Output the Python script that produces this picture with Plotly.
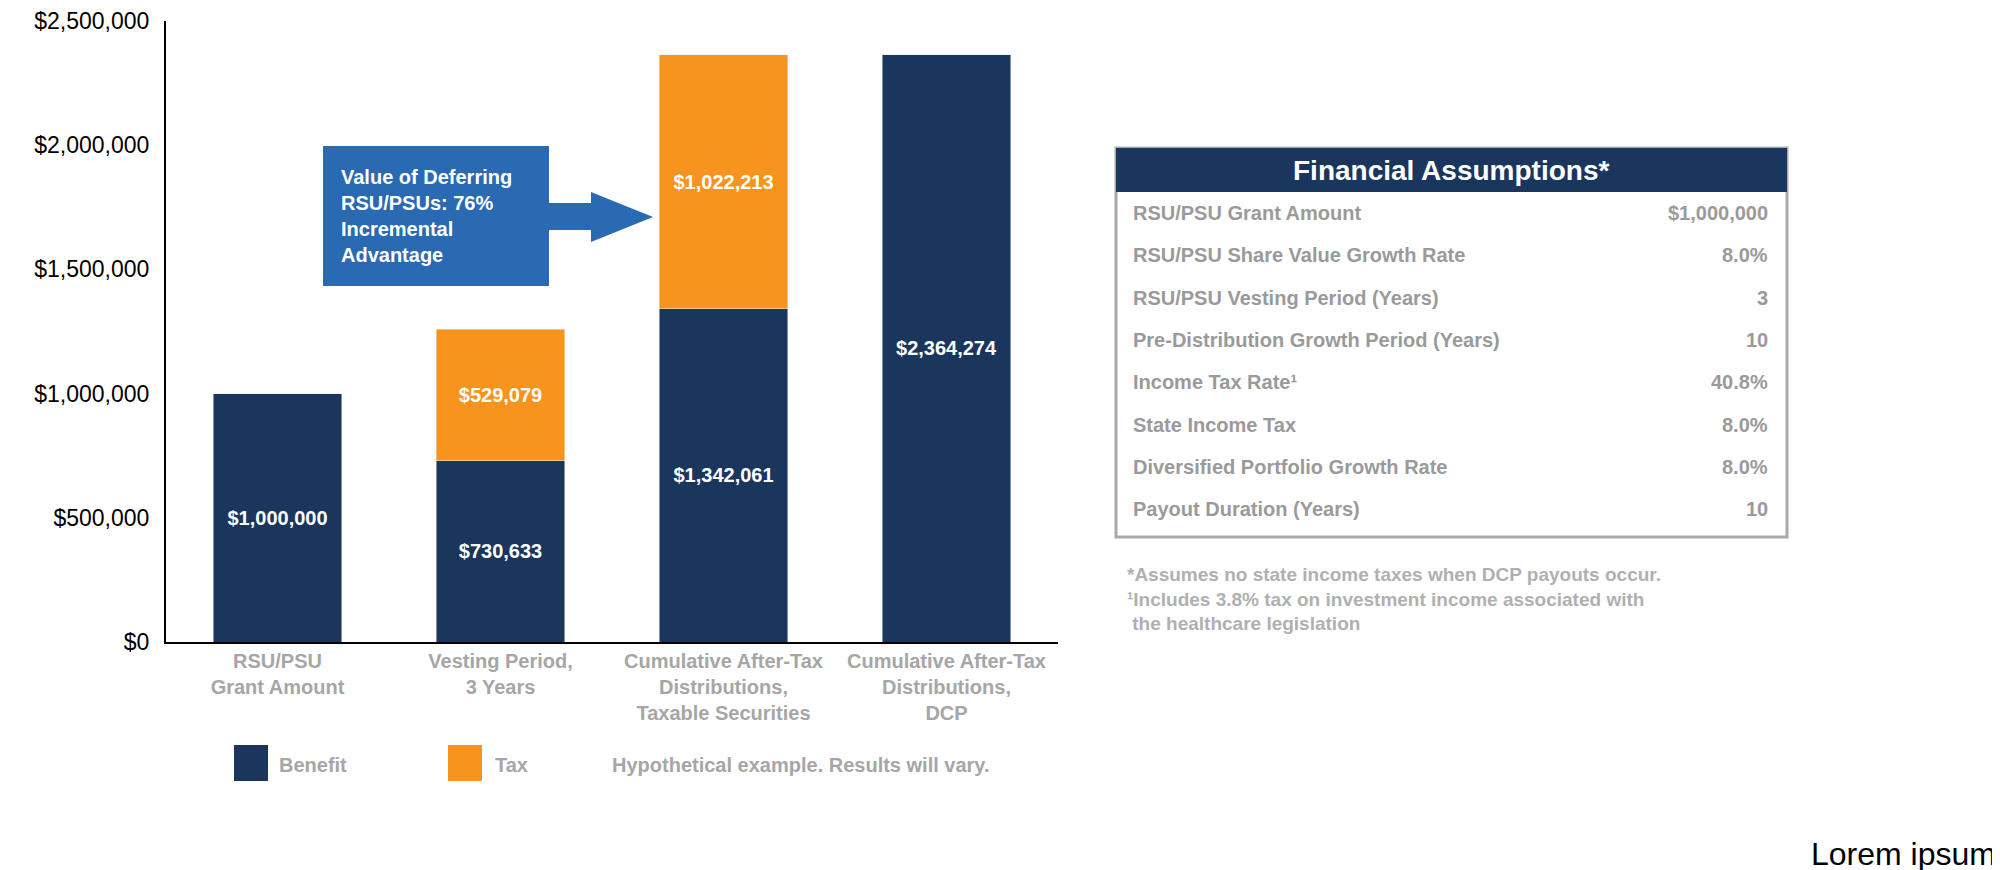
import plotly.graph_objects as go

categories = ["<b>RSU/PSU<br>Grant Amount</b>", "<b>Vesting Period,<br>3 Years</b>",
              "<b>Cumulative After-Tax<br>Distributions,<br>Taxable Securities</b>",
              "<b>Cumulative After-Tax<br>Distributions,<br>DCP</b>"]
benefit = [1000000, 730633, 1342061, 2364274]
tax = [None, 529079, 1022213, None]

assumption_labels = ["RSU/PSU Grant Amount", "RSU/PSU Share Value Growth Rate",
                     "RSU/PSU Vesting Period (Years)", "Pre-Distribution Growth Period (Years)",
                     "Income Tax Rate¹", "State Income Tax",
                     "Diversified Portfolio Growth Rate", "Payout Duration (Years)"]
assumption_values = ["$1,000,000", "8.0%", "3", "10", "40.8%", "8.0%", "8.0%", "10"]

NAVY = "#1b365d"
ORANGE = "#f7941d"
GRAY = "#9a9a9a"
FONT = "Liberation Sans"
W, H = 2000, 870


def px(x):
    return x / W


def py(y):
    return 1 - y / H


def money(v):
    return "" if v is None else f"<b>${v:,.0f}</b>"


fig = go.Figure()
fig.add_bar(x=categories, y=benefit, name="Benefit", marker_color=NAVY,
            text=[money(v) for v in benefit], textposition="inside",
            insidetextanchor="middle", textangle=0,
            textfont=dict(color="white", size=20, family=FONT))
fig.add_bar(x=categories, y=tax, name="Tax", marker_color=ORANGE,
            text=[money(v) for v in tax], textposition="inside",
            insidetextanchor="middle", textangle=0,
            textfont=dict(color="white", size=20, family=FONT))

shapes = []
ann = []

# callout box + arrow
shapes.append(dict(type="rect", xref="paper", yref="paper", x0=px(315), x1=px(541),
                   y0=py(278), y1=py(138), fillcolor="#2a6ab3", line_width=0, layer="above"))
shapes.append(dict(type="path", xref="paper", yref="paper", fillcolor="#2a6ab3", line_width=0,
                   path=f"M {px(541)},{py(195)} L {px(583)},{py(195)} L {px(583)},{py(184)} "
                        f"L {px(645)},{py(209)} L {px(583)},{py(234)} L {px(583)},{py(222)} "
                        f"L {px(541)},{py(222)} Z"))
ann.append(dict(xref="paper", yref="paper", x=px(331), y=py(208), xanchor="left", yanchor="middle",
                align="left", showarrow=False,
                text="<b>Value of Deferring<br>RSU/PSUs: 76%<br>Incremental<br>Advantage</b>",
                font=dict(color="white", size=20, family=FONT)))

# table
shapes.append(dict(type="rect", xref="paper", yref="paper", x0=px(1108), x1=px(1779),
                   y0=py(529), y1=py(140), line=dict(color="#aaaaaa", width=3)))
shapes.append(dict(type="rect", xref="paper", yref="paper", x0=px(1108), x1=px(1779),
                   y0=py(184), y1=py(140), fillcolor=NAVY, line_width=0))
ann.append(dict(xref="paper", yref="paper", x=px(1443), y=py(162), xanchor="center",
                yanchor="middle", showarrow=False,
                text="<b>Financial Assumptions*</b>", font=dict(color="white", size=28, family=FONT)))
for i, (lab, val) in enumerate(zip(assumption_labels, assumption_values)):
    yy = py(205 + i * 42.3)
    ann.append(dict(xref="paper", yref="paper", x=px(1123), y=yy, xanchor="left",
                    yanchor="middle", showarrow=False,
                    text=f"<b>{lab}</b>", font=dict(color=GRAY, size=20, family=FONT)))
    ann.append(dict(xref="paper", yref="paper", x=px(1762), y=yy, xanchor="right",
                    yanchor="middle", showarrow=False,
                    text=f"<b>{val}</b>", font=dict(color=GRAY, size=20, family=FONT)))

ann.append(dict(xref="paper", yref="paper", x=px(1117), y=py(591), xanchor="left", yanchor="middle",
                align="left", showarrow=False,
                text="<b>*Assumes no state income taxes when DCP payouts occur.<br>"
                     "¹Includes 3.8% tax on investment income associated with<br>"
                     " the healthcare legislation</b>",
                font=dict(color="#b0b0b0", size=19, family=FONT)))

# legend
shapes.append(dict(type="rect", xref="paper", yref="paper", x0=px(226), x1=px(260),
                   y0=py(773), y1=py(737), fillcolor=NAVY, line_width=0))
shapes.append(dict(type="rect", xref="paper", yref="paper", x0=px(440), x1=px(474),
                   y0=py(773), y1=py(737), fillcolor=ORANGE, line_width=0))
for x, t in [(269, "Benefit"), (485, "Tax"), (602, "Hypothetical example. Results will vary.")]:
    ann.append(dict(xref="paper", yref="paper", x=px(x), y=py(757), xanchor="left",
                    yanchor="middle", showarrow=False,
                    text=f"<b>{t}</b>", font=dict(color="#a6a6a6", size=20, family=FONT)))

ann.append(dict(xref="paper", yref="paper", x=px(1990), y=py(846), xanchor="right",
                yanchor="middle", showarrow=False,
                text="Lorem ipsum", font=dict(color="black", size=32, family=FONT)))

fig.update_layout(
    barmode="stack", bargap=0.425, showlegend=False,
    width=W, height=H, margin=dict(l=0, r=0, t=0, b=0),
    paper_bgcolor="white", plot_bgcolor="white",
    shapes=shapes, annotations=ann,
    font=dict(family=FONT),
    xaxis=dict(domain=[px(158), px(1050)], showline=True, linecolor="black", linewidth=2,
               tickfont=dict(color="#a6a6a6", size=20), ticks="", showgrid=False,
               automargin=False),
    yaxis=dict(domain=[py(634), py(13)], range=[0, 2500000], dtick=500000, tickprefix="$",
               tickformat=",.0f", showline=True, linecolor="black", linewidth=2,
               showgrid=False, zeroline=False, ticks="", ticklabelstandoff=10,
               tickfont=dict(color="black", size=23), automargin=False),
)

fig.write_html("out.html")
